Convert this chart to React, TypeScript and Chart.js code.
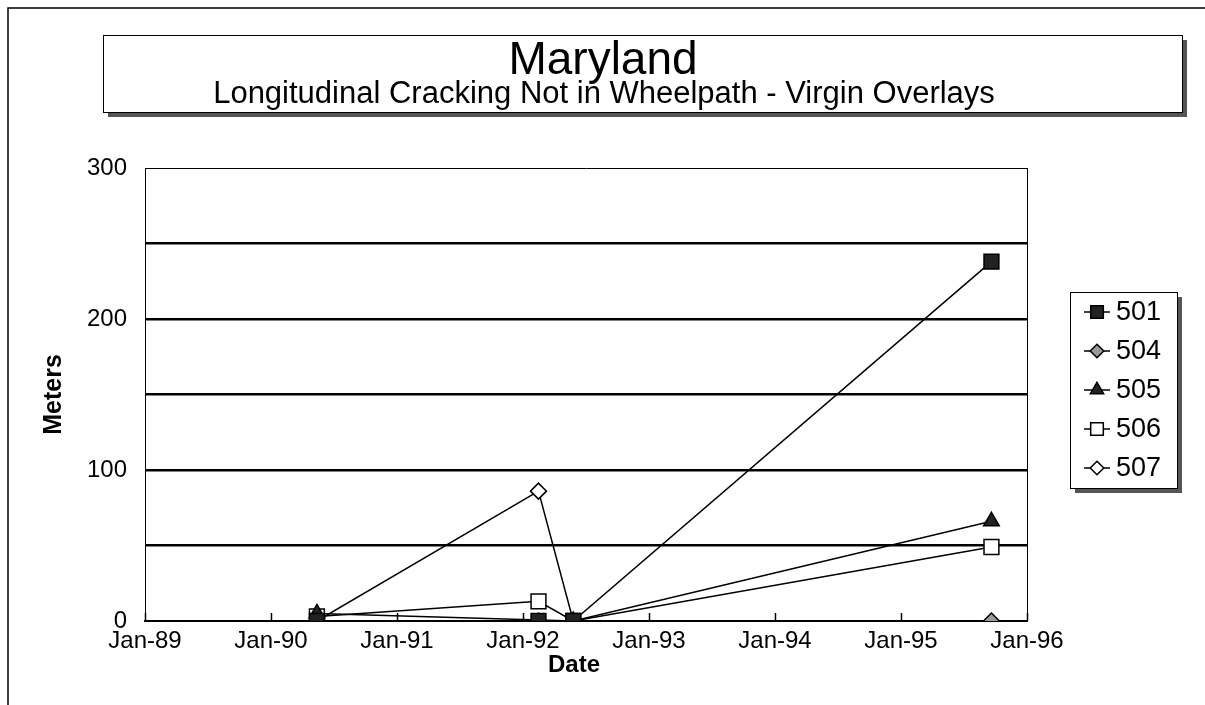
import React, { useEffect, useRef } from 'react';
import { Chart, registerables } from 'chart.js';

Chart.register(...registerables);

// ---- data ----
const TITLE = 'Maryland';
const SUBTITLE = 'Longitudinal Cracking Not in Wheelpath - Virgin Overlays';
const Y_TITLE = 'Meters';
const X_TITLE = 'Date';

const SERIES_NAMES = ['501', '504', '505', '506', '507'];

const DATES_501 = ['1990-05-14', '1992-02-15', '1992-05-26', '1995-09-20'];
const VALUES_501 = [0, 0, 0, 238];

const DATES_504 = ['1990-05-14', '1992-02-15', '1992-05-26', '1995-09-20'];
const VALUES_504 = [0, 0, 0, 0];

const DATES_505 = ['1990-05-14', '1992-05-26', '1995-09-20'];
const VALUES_505 = [5, 0, 66];

const DATES_506 = ['1990-05-14', '1992-02-15', '1992-05-26', '1995-09-20'];
const VALUES_506 = [3, 13, 0, 49];

const DATES_507 = ['1990-05-14', '1992-02-15', '1992-05-26'];
const VALUES_507 = [0, 86, 0];

const X_TICK_YEARS = [1989, 1990, 1991, 1992, 1993, 1994, 1995, 1996];
const X_TICK_LABELS = ['Jan-89', 'Jan-90', 'Jan-91', 'Jan-92', 'Jan-93', 'Jan-94', 'Jan-95', 'Jan-96'];
const Y_TICK_LABELS = ['0', '100', '200', '300'];

const POINT_STYLES = ['rect', 'rectRot', 'triangle', 'rect', 'rectRot'];
const POINT_FILLS = ['#222222', '#9a9a9a', '#222222', '#ffffff', '#ffffff'];
const POINT_RADII = [10.5, 8, 9, 10.5, 8];

const FONT = '"Liberation Sans", Arial, Helvetica, sans-serif';

function toYear(d: string): number {
  const dt = new Date(d + 'T00:00:00Z');
  const y = dt.getUTCFullYear();
  const start = Date.UTC(y, 0, 1);
  const end = Date.UTC(y + 1, 0, 1);
  return y + (dt.getTime() - start) / (end - start);
}

function pts(dates: string[], values: number[]) {
  return dates.map((d, i) => ({ x: toYear(d), y: values[i] }));
}

const SERIES_DATA = [
  pts(DATES_501, VALUES_501),
  pts(DATES_504, VALUES_504),
  pts(DATES_505, VALUES_505),
  pts(DATES_506, VALUES_506),
  pts(DATES_507, VALUES_507),
];

function drawMarker(ctx: CanvasRenderingContext2D, style: string, x: number, y: number, r: number, fill: string) {
  ctx.save();
  ctx.beginPath();
  if (style === 'rect') {
    const s = Math.SQRT1_2 * r;
    ctx.rect(x - s, y - s, 2 * s, 2 * s);
  } else if (style === 'rectRot') {
    ctx.moveTo(x, y - r);
    ctx.lineTo(x + r, y);
    ctx.lineTo(x, y + r);
    ctx.lineTo(x - r, y);
    ctx.closePath();
  } else if (style === 'triangle') {
    ctx.moveTo(x, y - r);
    ctx.lineTo(x + r * Math.sin(2 * Math.PI / 3), y - r * Math.cos(2 * Math.PI / 3));
    ctx.lineTo(x + r * Math.sin(4 * Math.PI / 3), y - r * Math.cos(4 * Math.PI / 3));
    ctx.closePath();
  }
  ctx.fillStyle = fill;
  ctx.fill();
  ctx.lineWidth = 1.5;
  ctx.strokeStyle = '#000';
  ctx.stroke();
  ctx.restore();
}

const decorPlugin = {
  id: 'decor',
  beforeDraw(chart: any) {
    const ctx: CanvasRenderingContext2D = chart.ctx;
    ctx.save();
    ctx.fillStyle = '#fff';
    ctx.fillRect(0, 0, chart.width, chart.height);
    // outer frame
    ctx.strokeStyle = '#000';
    ctx.lineWidth = 1.5;
    ctx.beginPath();
    ctx.moveTo(8, 705);
    ctx.lineTo(8, 8);
    ctx.lineTo(1205, 8);
    ctx.stroke();

    // title box with shadow
    const bx = 103, by = 35, bw = 1079, bh = 77;
    ctx.fillStyle = '#555';
    ctx.fillRect(bx + 5, by + 5, bw, bh);
    ctx.fillStyle = '#fff';
    ctx.fillRect(bx, by, bw, bh);
    ctx.lineWidth = 1;
    ctx.strokeStyle = '#000';
    ctx.strokeRect(bx + 0.5, by + 0.5, bw, bh);
    ctx.fillStyle = '#000';
    ctx.textAlign = 'center';
    ctx.textBaseline = 'alphabetic';
    ctx.font = `46px ${FONT}`;
    ctx.fillText(TITLE, 603, 74);
    ctx.font = `31px ${FONT}`;
    ctx.fillText(SUBTITLE, 604, 103);
    ctx.restore();
  },
  afterDraw(chart: any) {
    const ctx: CanvasRenderingContext2D = chart.ctx;
    const area = chart.chartArea;
    const xs = chart.scales.x;
    ctx.save();
    // right frame line of plot
    ctx.strokeStyle = '#000';
    ctx.lineWidth = 1;
    ctx.beginPath();
    ctx.moveTo(Math.round(area.right) + 0.5, area.top);
    ctx.lineTo(Math.round(area.right) + 0.5, area.bottom);
    ctx.stroke();
    // inner tick marks on x axis
    ctx.lineWidth = 1.5;
    X_TICK_YEARS.forEach((v) => {
      const px = Math.round(xs.getPixelForValue(v)) + 0.5;
      ctx.beginPath();
      ctx.moveTo(px, area.bottom);
      ctx.lineTo(px, area.bottom - 8);
      ctx.stroke();
    });

    // x axis title
    ctx.fillStyle = '#000';
    ctx.font = `bold 24px ${FONT}`;
    ctx.textAlign = 'center';
    ctx.textBaseline = 'middle';
    ctx.fillText(X_TITLE, 574, 665);

    // legend box
    const lx = 1070, ly = 292, lw = 107, lh = 196;
    ctx.fillStyle = '#555';
    ctx.fillRect(lx + 5, ly + 5, lw, lh);
    ctx.fillStyle = '#fff';
    ctx.fillRect(lx, ly, lw, lh);
    ctx.strokeStyle = '#000';
    ctx.lineWidth = 1;
    ctx.strokeRect(lx + 0.5, ly + 0.5, lw, lh);
    chart.data.datasets.forEach((ds: any, i: number) => {
      const cy = 312 + i * 39;
      const cx = 1097;
      ctx.strokeStyle = '#000';
      ctx.lineWidth = 1.5;
      ctx.beginPath();
      ctx.moveTo(cx - 13, cy);
      ctx.lineTo(cx + 13, cy);
      ctx.stroke();
      drawMarker(ctx, ds.pointStyle, cx, cy, ds.pointRadius * 0.85, ds.pointBackgroundColor);
      ctx.fillStyle = '#000';
      ctx.font = `27px ${FONT}`;
      ctx.textAlign = 'left';
      ctx.textBaseline = 'middle';
      ctx.fillText(ds.label, 1116, cy + 1);
    });
    ctx.restore();
  },
};

export default function App() {
  const ref = useRef<HTMLCanvasElement | null>(null);
  useEffect(() => {
    if (!ref.current) return;
    const chart = new Chart(ref.current, {
      type: 'scatter',
      data: {
        datasets: SERIES_NAMES.map((name, i) => ({
          label: name,
          data: SERIES_DATA[i],
          showLine: true,
          borderColor: '#000',
          borderWidth: 1.5,
          pointStyle: POINT_STYLES[i],
          pointRadius: POINT_RADII[i],
          pointHoverRadius: POINT_RADII[i],
          pointBackgroundColor: POINT_FILLS[i],
          pointBorderColor: '#000',
          pointBorderWidth: 1.5,
          tension: 0,
        })),
      },
      options: {
        animation: false,
        responsive: false,
        events: [],
        layout: { padding: { left: 0, top: 168, right: 178, bottom: 0 } },
        plugins: { legend: { display: false }, title: { display: false }, tooltip: { enabled: false } },
        scales: {
          x: {
            type: 'linear',
            min: 1989,
            max: 1996,
            afterBuildTicks: (scale: any) => {
              scale.ticks = X_TICK_YEARS.map((v) => ({ value: v }));
            },
            afterFit: (scale: any) => {
              scale.height = 84;
            },
            ticks: {
              autoSkip: false,
              maxRotation: 0,
              padding: 6,
              color: '#000',
              font: { family: FONT, size: 24 },
              callback: (_v: any, i: number) => X_TICK_LABELS[i],
            },
            grid: { display: false, drawTicks: false },
            border: { display: true, color: '#000', width: 2 },
            title: { display: false },
          },
          y: {
            type: 'linear',
            min: 0,
            max: 300,
            afterFit: (scale: any) => {
              scale.width = 145;
            },
            ticks: {
              stepSize: 50,
              padding: 18,
              color: '#000',
              font: { family: FONT, size: 24 },
              callback: (v: any) => {
                const idx = Y_TICK_LABELS.indexOf(String(v));
                return idx >= 0 ? Y_TICK_LABELS[idx] : '';
              },
            },
            grid: {
              color: '#000',
              drawTicks: false,
              lineWidth: (c: any) => (c.tick && (c.tick.value === 0 || c.tick.value === 300) ? 1 : 2.5),
            },
            border: { display: true, color: '#000', width: 1 },
            title: {
              display: true,
              text: Y_TITLE,
              color: '#000',
              font: { family: FONT, size: 25, weight: 'bold' },
              padding: { top: 39, bottom: 0 },
            },
          },
        },
      },
      plugins: [decorPlugin],
    } as any);
    return () => chart.destroy();
  }, []);
  return (
    <div style={{ position: 'absolute', left: 0, top: 0, width: 1205, height: 705 }}>
      <canvas ref={ref} width={1205} height={705} style={{ display: 'block', width: 1205, height: 705 }} />
    </div>
  );
}
